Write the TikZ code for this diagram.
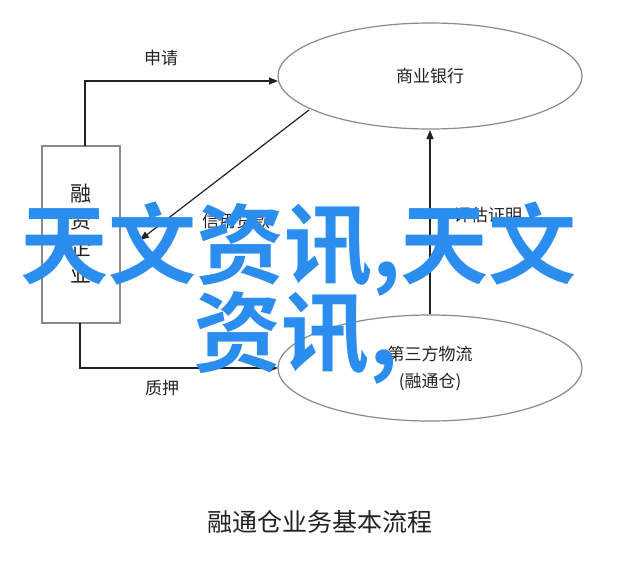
\documentclass[tikz,border=0pt]{standalone}
\usepackage{fontspec}
\setmainfont{Noto Sans CJK SC}
\newfontfamily\wmfont{Noto Sans CJK SC Bold}
\usetikzlibrary{arrows.meta}
\definecolor{ln}{HTML}{222222}
\definecolor{bx}{HTML}{8A8A8A}
\definecolor{wm}{HTML}{2B8DEE}
\begin{document}
\begin{tikzpicture}[x=1pt,y=-1pt,
  arr/.style={draw=ln,line width=1.2pt,-{Triangle[length=9pt,width=7pt]}},
  lbl/.style={font=\fontsize{17}{17}\selectfont,text=ln}]
\useasboundingbox[fill=white] (0,0) rectangle (640,568);
\draw[bx,line width=1.4pt] (42,146) rectangle (120,323);
\node[lbl,font=\fontsize{21}{27}\selectfont,align=center] (box) at (81,234) {融\\资\\企\\业};
\coordinate (bt) at (85,146);
\coordinate (bb) at (80,323);
\coordinate (bm) at (140,240);
\draw[bx,line width=1.2pt] (430,76) ellipse (152pt and 53pt);
\node[lbl] (bank) at (430,76) {商业银行};
\draw[bx,line width=1.2pt] (430,368) ellipse (152pt and 53pt);
\node[lbl,align=center,font=\fontsize{17}{27}\selectfont] (logi) at (430,368) {第三方物流\\(融通仓)};
\coordinate (bl) at (278,81);
\coordinate (ll) at (278,368);
\coordinate (b1) at (309,110);
\coordinate (lt) at (430,314);
\coordinate (bb2) at (430,130);
\draw[arr] (bt) |- (bl);
\node[lbl] (l1) at (161,58) {申请};
\draw[arr] (b1) -- (bm);
\node[lbl] (l2) at (236,221) {信用贷款};
\draw[arr] (lt) -- (bb2);
\node[lbl] (l3) at (488,215) {评估证明};
\draw[arr] (bb) |- (ll);
\node[lbl] (l4) at (162,388) {质押};
\node[font=\fontsize{25}{25}\selectfont,text=ln] (title) at (320,522) {融通仓业务基本流程};
\node[font=\wmfont\fontsize{88}{92}\selectfont,text=wm,anchor=west,inner sep=0] (wm1) at (20,249) {天文资讯,天文};
\node[font=\wmfont\fontsize{88}{92}\selectfont,text=wm,anchor=west,inner sep=0] (wm2) at (193,338) {资讯,};
\end{tikzpicture}
\end{document}
